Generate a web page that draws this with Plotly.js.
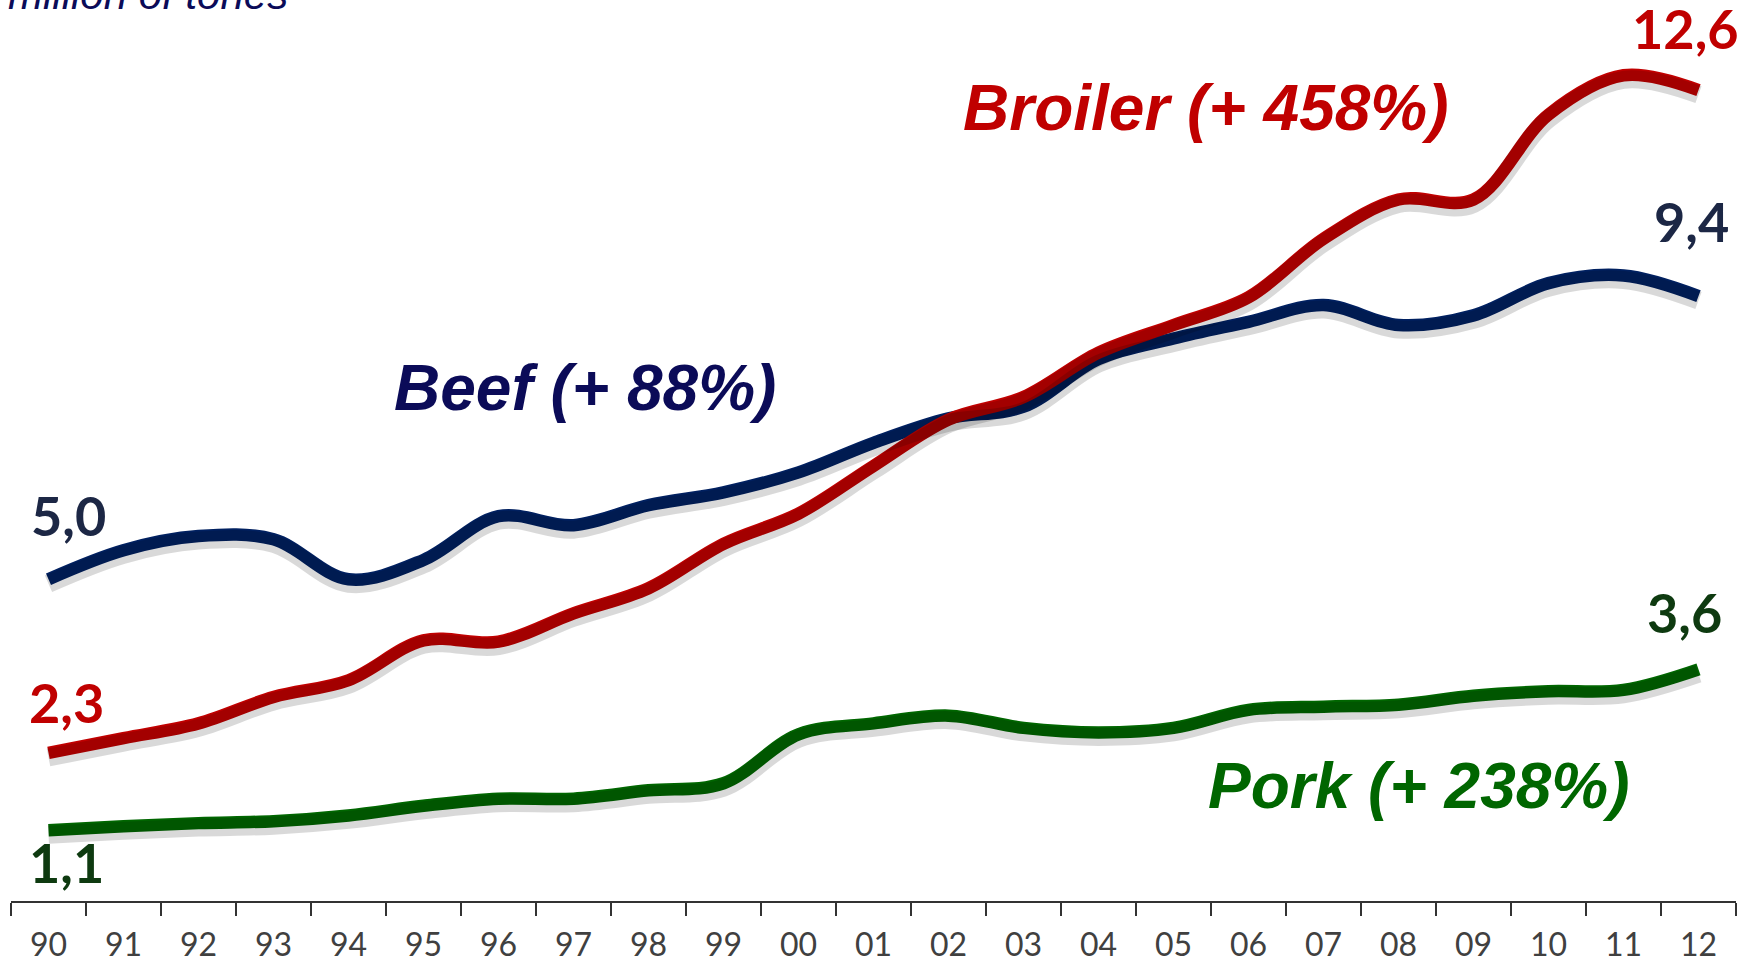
<!DOCTYPE html>
<html>
<head>
<meta charset="utf-8">
<script src="https://cdn.plot.ly/plotly-3.0.1.min.js"></script>
<style>
html,body{margin:0;padding:0;background:#fff;}
#chart{width:1740px;height:964px;}
</style>
</head>
<body>
<div id="chart"></div>
<script>
// ---- data ----
var years = ['90','91','92','93','94','95','96','97','98','99','00','01','02','03','04','05','06','07','08','09','10','11','12'];
var beef    = [5.0, 5.45, 5.67, 5.62, 5.0, 5.3, 5.98, 5.84, 6.15, 6.35, 6.66, 7.12, 7.5, 7.68, 8.42, 8.74, 9.0, 9.26, 8.95, 9.1, 9.6, 9.72, 9.4];
var broiler = [2.3, 2.53, 2.76, 3.17, 3.43, 4.05, 4.03, 4.47, 4.86, 5.55, 6.02, 6.76, 7.48, 7.83, 8.52, 8.95, 9.38, 10.29, 10.9, 10.9, 12.22, 12.83, 12.6];
var pork    = [1.1, 1.16, 1.21, 1.24, 1.33, 1.48, 1.59, 1.59, 1.72, 1.83, 2.59, 2.76, 2.88, 2.69, 2.62, 2.69, 2.97, 3.02, 3.05, 3.19, 3.26, 3.28, 3.6];
var seriesNames = ['Beef (+ 88%)', 'Broiler (+ 458%)', 'Pork (+ 238%)'];
var startLabels = ['5,0', '2,3', '1,1'];
var endLabels   = ['9,4', '12,6', '3,6'];
var axisTitle = 'million of tones';

var lineColors  = ['#002060', '#C00000', '#006600'];
var nameColors  = ['#0B0B58', '#C00000', '#006600'];
var valueColors = ['#1C2745', '#C00000', '#0E3A10'];
var seriesData = [beef, broiler, pork];

var traces = [];
// soft shadows (same data, drawn on a slightly shifted overlay axis)
seriesData.forEach(function(d){
  traces.push({x: years, y: d, type: 'scatter', mode: 'lines', yaxis: 'y2',
    line: {color: 'rgba(0,0,0,0.15)', width: 18, shape: 'spline', smoothing: 1},
    hoverinfo: 'skip', showlegend: false});
});
seriesData.forEach(function(d, i){
  traces.push({x: years, y: d, type: 'scatter', mode: 'lines', name: seriesNames[i],
    line: {color: lineColors[i], width: 12.5, shape: 'spline', smoothing: 1},
    showlegend: false});
});

var yr = [0, 14];
var shift = 0.07;

var annotations = [];
// start / end value labels (category axis: x given as category index)
var startOff = [[20, 64], [18, 50], [18, -32]];
var endOff   = [[-7, 75], [-13, 62], [-14, 57]];
seriesData.forEach(function(d, i){
  annotations.push({x: 0, y: d[0], xref: 'x', yref: 'y', text: startLabels[i],
    showarrow: false, xshift: startOff[i][0], yshift: startOff[i][1],
    font: {family: 'Lato', size: 54, color: valueColors[i], weight: 'bold'}});
  var n = d.length - 1;
  annotations.push({x: n, y: d[n], xref: 'x', yref: 'y', text: endLabels[i],
    showarrow: false, xshift: endOff[i][0], yshift: endOff[i][1],
    font: {family: 'Lato', size: 54, color: valueColors[i], weight: 'bold'}});
});
// series names
var namePos = [[0.333, 0.569], [0.693, 0.880], [0.816, 0.128]];
seriesNames.forEach(function(t, i){
  annotations.push({x: namePos[i][0], y: namePos[i][1], xref: 'paper', yref: 'paper',
    text: '<b><i>' + t + '</i></b>', showarrow: false, xanchor: 'center', yanchor: 'middle',
    font: {family: 'Liberation Sans, Arial', size: 64, color: nameColors[i]}});
});
// axis unit title
annotations.push({x: -0.003, y: 0.978, xref: 'paper', yref: 'paper', text: '<i>' + axisTitle + '</i>',
  showarrow: false, xanchor: 'left', yanchor: 'bottom',
  font: {family: 'Liberation Sans, Arial', size: 42, color: '#0B0B58'}});

var layout = {
  width: 1740, height: 964,
  margin: {l: 11, r: 4, t: 0, b: 63},
  paper_bgcolor: '#ffffff', plot_bgcolor: '#ffffff',
  showlegend: false,
  xaxis: {type: 'category', range: [-0.5, 22.5], tickson: 'boundaries',
    ticks: 'outside', ticklen: 13, tickwidth: 2, tickcolor: '#333333',
    showline: true, linecolor: '#333333', linewidth: 2, showgrid: false, zeroline: false,
    tickfont: {family: 'Lato', size: 32, color: '#404040'}, ticklabelstandoff: 15},
  yaxis: {range: yr, visible: false, showgrid: false, zeroline: false, fixedrange: true},
  yaxis2: {range: [yr[0] + shift, yr[1] + shift], overlaying: 'y', visible: false, showgrid: false, zeroline: false},
  annotations: annotations
};

Plotly.newPlot('chart', traces, layout, {displayModeBar: false, staticPlot: true});
</script>
</body>
</html>
